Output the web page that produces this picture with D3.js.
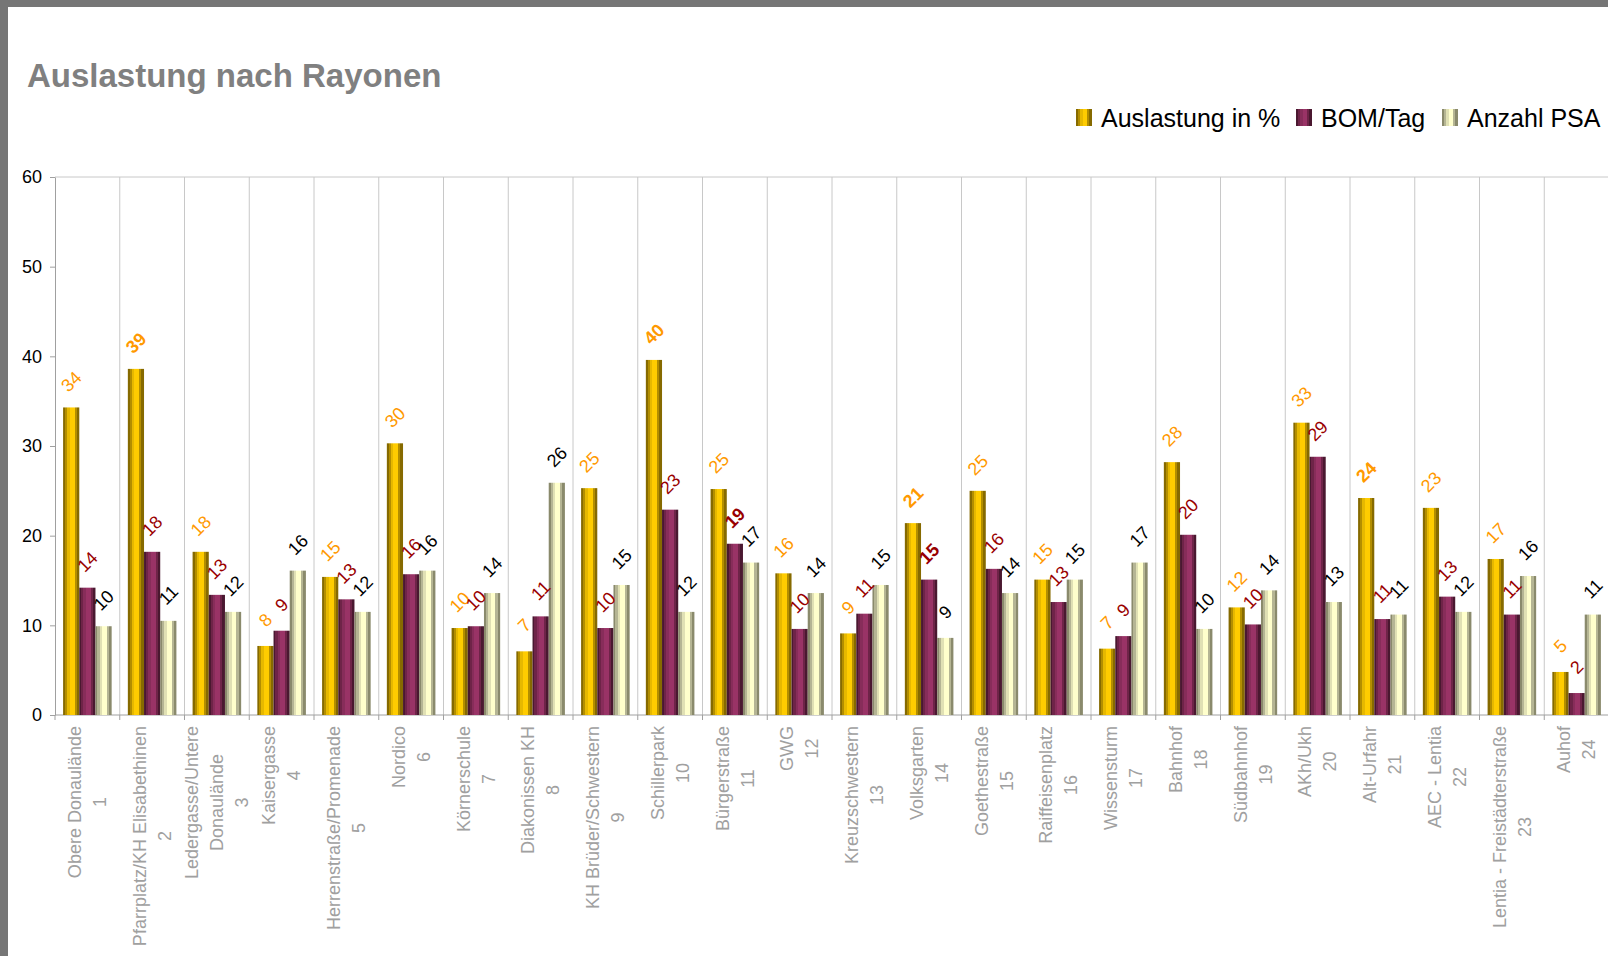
<!DOCTYPE html>
<html>
<head>
<meta charset="utf-8">
<script src="https://cdn.jsdelivr.net/npm/d3@7"></script>
<style>
  body { margin: 0; background: #fff; }
  svg { display: block; font-family: "Liberation Sans", Arial, sans-serif; }
</style>
</head>
<body>
<svg id="chart" width="1608" height="956"></svg>
<script>
// Rayon names (line breaks as in the original axis)
const rayonen = [
  "Obere Donaulände", "Pfarrplatz/KH Elisabethinen", "Ledergasse/Untere\nDonaulände",
  "Kaisergasse", "Herrenstraße/Promenade", "Nordico", "Körnerschule", "Diakonissen KH",
  "KH Brüder/Schwestern", "Schillerpark", "Bürgerstraße", "GWG", "Kreuzschwestern",
  "Volksgarten", "Goethestraße", "Raiffeisenplatz", "Wissensturm", "Bahnhof",
  "Südbahnhof", "AKh/Ukh", "Alt-Urfahr", "AEC - Lentia", "Lentia - Freistädterstraße", "Auhof"
];
const rayonNr = ["1","2","3","4","5","6","7","8","9","10","11","12",
  "13","14","15","16","17","18","19","20","21","22","23","24"];

const auslastung = [34.3, 38.6, 18.2, 7.7, 15.4, 30.3, 9.7, 7.1, 25.3, 39.6, 25.2, 15.8,
  9.1, 21.4, 25.0, 15.1, 7.4, 28.2, 12.0, 32.6, 24.2, 23.1, 17.4, 4.8];
const bomTag = [14.2, 18.2, 13.4, 9.4, 12.9, 15.7, 9.9, 11.0, 9.7, 22.9, 19.1, 9.6,
  11.3, 15.1, 16.3, 12.6, 8.8, 20.1, 10.1, 28.8, 10.7, 13.2, 11.2, 2.45];
const anzahlPSA = [9.9, 10.5, 11.5, 16.1, 11.5, 16.1, 13.6, 25.9, 14.5, 11.5, 17.0, 13.6,
  14.5, 8.6, 13.6, 15.1, 17.0, 9.6, 13.9, 12.6, 11.2, 11.5, 15.5, 11.2];

const seriesNames = ["Auslastung in %", "BOM/Tag", "Anzahl PSA"];
const yTicks = [0, 10, 20, 30, 40, 50, 60];

// labels Excel shows in bold: [series index, category index]
const boldLabels = [[0, 1], [0, 9], [1, 10], [0, 13], [1, 13], [0, 20]];

const seriesValues = [auslastung, bomTag, anzahlPSA];
const labelColors = ["#ff9900", "#990000", "#000000"];
// banded "3D" fills: [dark, mid, light, bright]
const bands = [
  ["#866a00", "#b38e00", "#e6b800", "#ffcc00"],
  ["#4a1830", "#6e2448", "#872d5a", "#993366"],
  ["#8a8a6c", "#b5b594", "#e0e0b4", "#ffffcc"]
];

const svg = d3.select("#chart");
const margin = {left: 55, right: 1609, top: 177, bottom: 715};

// gradients
const defs = svg.append("defs");
bands.forEach(function(b, i) {
  let g = defs.append("linearGradient").attr("id", "grad" + i)
    .attr("x1", 0).attr("x2", 1).attr("y1", 0).attr("y2", 0);
  let stops = [[0, b[0]], [0.12, b[0]], [0.12, b[1]], [0.25, b[1]], [0.25, b[2]], [0.41, b[2]],
    [0.41, b[3]], [0.71, b[3]], [0.71, b[1]], [0.84, b[1]], [0.84, b[0]], [1, b[0]]];
  stops.forEach(s => g.append("stop").attr("offset", s[0]).attr("stop-color", s[1]));
});

svg.append("rect").attr("width", 1608).attr("height", 956).attr("fill", "#fff");

let x0 = d3.scaleBand().domain(d3.range(rayonen.length))
  .range([margin.left, margin.right]).paddingInner(0.25).paddingOuter(0.125);
let x1 = d3.scaleBand().domain(d3.range(3)).range([0, x0.bandwidth()]);
let y = d3.scaleLinear().domain([0, 60]).range([margin.bottom, margin.top]);

// vertical grid lines at category boundaries
let bounds = d3.range(rayonen.length + 1).map(i => margin.left + i * x0.step());
svg.append("g").selectAll("line").data(bounds.slice(1)).enter().append("line")
  .attr("x1", d => d).attr("x2", d => d)
  .attr("y1", margin.top).attr("y2", margin.bottom)
  .attr("stroke", "#c8c8c8").attr("stroke-width", 1);

// top border
svg.append("line").attr("x1", margin.left).attr("x2", margin.right)
  .attr("y1", margin.top).attr("y2", margin.top).attr("stroke", "#c8c8c8");

// y axis
let yAxis = svg.append("g").attr("transform", `translate(${margin.left},0)`)
  .call(d3.axisLeft(y).tickValues(yTicks).tickSize(5).tickPadding(8).tickSizeOuter(0));
yAxis.select(".domain").attr("stroke", "#a0a0a0");
yAxis.selectAll(".tick line").attr("stroke", "#a0a0a0");
yAxis.selectAll("text").attr("font-size", 18).attr("fill", "#000")
  .attr("font-family", "Liberation Sans, Arial, sans-serif");

// x axis line + ticks
svg.append("line").attr("x1", margin.left).attr("x2", margin.right)
  .attr("y1", margin.bottom).attr("y2", margin.bottom).attr("stroke", "#a0a0a0");
svg.append("g").selectAll("line").data(bounds).enter().append("line")
  .attr("x1", d => d).attr("x2", d => d)
  .attr("y1", margin.bottom).attr("y2", margin.bottom + 5).attr("stroke", "#a0a0a0");

// bars
let groups = svg.append("g").selectAll("g").data(rayonen).enter().append("g")
  .attr("transform", (d, i) => `translate(${x0(i)},0)`);

groups.each(function(name, ci) {
  let g = d3.select(this);
  seriesValues.forEach(function(vals, si) {
    let v = vals[ci];
    g.append("rect")
      .attr("x", x1(si)).attr("width", x1.bandwidth())
      .attr("y", y(v)).attr("height", y(0) - y(v))
      .attr("fill", `url(#grad${si})`);
  });
});

// value labels, rotated
let isBold = (si, ci) => boldLabels.some(b => b[0] == si && b[1] == ci);
groups.each(function(name, ci) {
  let g = d3.select(this);
  seriesValues.forEach(function(vals, si) {
    let v = vals[ci];
    let cx = x1(si) + x1.bandwidth() / 2;
    let cy = y(v) - 26;
    g.append("text")
      .attr("transform", `translate(${cx},${cy}) rotate(-45)`)
      .attr("text-anchor", "middle").attr("dy", "0.35em")
      .attr("font-size", 18)
      .attr("font-weight", isBold(si, ci) ? "bold" : "normal")
      .attr("fill", labelColors[si])
      .text(Math.round(v));
  });
});

// category labels, rotated -90, lines centred on each other
const LINE_H = 25;
rayonen.forEach(function(name, ci) {
  let lines = name.split("\n").concat([rayonNr[ci]]);
  let cx = x0(ci) + x0.bandwidth() / 2;
  let t = svg.append("text")
    .attr("transform", `translate(${cx},${margin.bottom + 11}) rotate(-90)`)
    .attr("font-size", 18).attr("fill", "#a0a0a0").attr("text-anchor", "middle");
  let n = lines.length;
  let spans = lines.map((l, li) => t.append("tspan")
    .attr("y", (li - (n - 1) / 2) * LINE_H).attr("dy", "0.35em").text(l));
  let maxLen = d3.max(spans, s => s.node().getComputedTextLength());
  spans.forEach(s => s.attr("x", -maxLen / 2));
});

// title
svg.append("text").attr("x", 27).attr("y", 87)
  .attr("font-size", 33).attr("font-weight", "bold").attr("fill", "#808080")
  .text("Auslastung nach Rayonen");

// legend
const legendX = [1076, 1296, 1442];
seriesNames.forEach(function(s, i) {
  svg.append("rect").attr("x", legendX[i]).attr("y", 109)
    .attr("width", 16).attr("height", 17).attr("fill", `url(#grad${i})`);
  svg.append("text").attr("x", legendX[i] + 25).attr("y", 127)
    .attr("font-size", 25).attr("fill", "#000").text(s);
});

// grey frame of the screenshot
svg.append("rect").attr("x", 0).attr("y", 0).attr("width", 1608).attr("height", 7).attr("fill", "#767676");
svg.append("rect").attr("x", 0).attr("y", 0).attr("width", 8).attr("height", 956).attr("fill", "#767676");
</script>
</body>
</html>
